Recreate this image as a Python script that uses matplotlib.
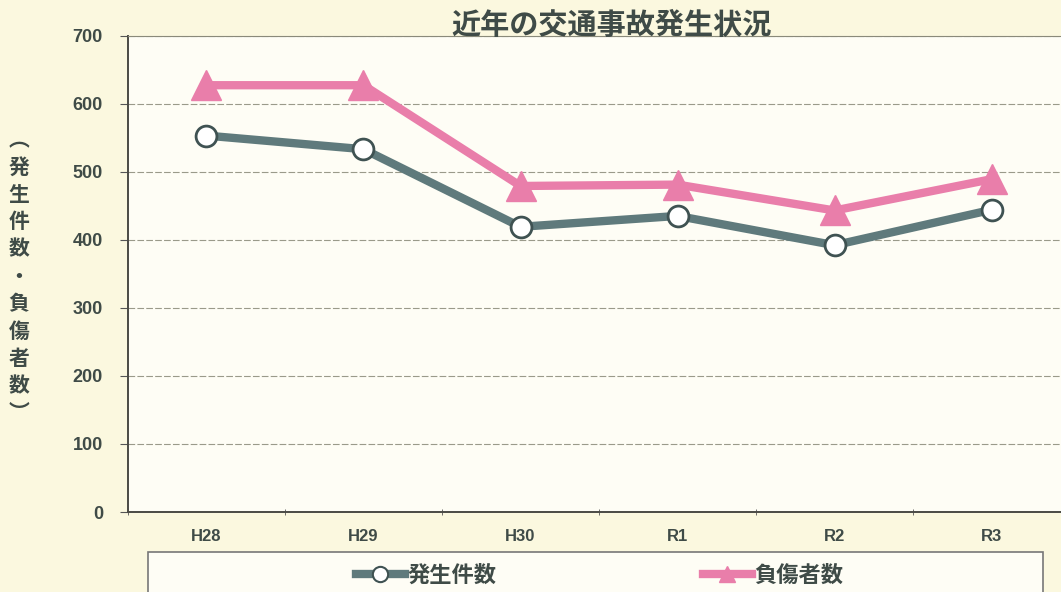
import numpy as np
import matplotlib
matplotlib.use("Agg")
import matplotlib.pyplot as plt
from matplotlib.lines import Line2D
from matplotlib.patches import Rectangle

plt.rcParams["font.family"] = ["Noto Sans CJK JP", "DejaVu Sans"]

years = ["H28", "H29", "H30", "R1", "R2", "R3"]
accidents = [553, 533, 419, 435, 392, 444]   # 発生件数
injured = [627, 627, 479, 481, 443, 489]     # 負傷者数
yticks = [0, 100, 200, 300, 400, 500, 600, 700]

TXT = "#3f4b47"
GRAY = "#5f7a7c"
PINK = "#e97eaa"

fig = plt.figure(figsize=(10.61, 5.92), dpi=100, facecolor="#fbf8df")
ax = fig.add_axes([0.1206, 0.135, 0.888, 0.805])
ax.set_facecolor("#fefdf5")

x = np.arange(len(years))
ax.plot(x, accidents, color=GRAY, lw=6, marker="o", ms=15,
        mfc="white", mec="#3f5252", mew=2, zorder=3)
ax.plot(x, injured, color=PINK, lw=6, marker="^", ms=21,
        mfc=PINK, mec=PINK, zorder=4)

ax.set_xlim(-0.5, len(years) - 0.5)
ax.set_ylim(0, 700)
ax.set_yticks(yticks)
ax.set_xticks(x)
ax.set_xticklabels(years)
ax.set_xticks(np.arange(-0.5, len(years)), minor=True)
ax.tick_params(axis="x", which="major", length=0, pad=12,
               labelsize=12, labelcolor=TXT)
ax.tick_params(axis="x", which="minor", length=4, direction="inout", color="#555")
ax.tick_params(axis="y", length=6, pad=12, labelsize=13, labelcolor=TXT, color="#555")
for lab in ax.get_xticklabels() + ax.get_yticklabels():
    lab.set_fontfamily(["Liberation Sans", "DejaVu Sans"])
    lab.set_fontweight("bold")

ax.grid(axis="y", color="#9a9a8a", lw=0.8, ls=(0, (6, 2)))
ax.set_axisbelow(True)
for s in ["left", "bottom"]:
    ax.spines[s].set_color("#4a4a44")
    ax.spines[s].set_linewidth(1.4)
ax.spines["top"].set_color("#8a8a7a")
ax.spines["right"].set_visible(False)

fig.text(0.576, 0.957, "近年の交通事故発生状況", ha="center", va="center",
         fontsize=21, fontweight="bold", color=TXT)

# vertical y-axis label, one character per line
ylab = "︵発生件数・負傷者数︶"
for i, ch in enumerate(ylab):
    fig.text(0.018, 1 - (140 + i * 27.3) / 592, ch, ha="center", va="center",
             fontsize=15, fontweight="bold", color=TXT)

# legend box below the axis labels
fig.patches.append(Rectangle((148 / 1061, -0.02), (1043 - 148) / 1061, 0.088,
                             transform=fig.transFigure, facecolor="#fefdf5",
                             edgecolor="#777", lw=1.2))
handles = [
    Line2D([], [], color=GRAY, lw=6, marker="o", ms=11, mfc="white", mec="#3f5252", mew=1.5),
    Line2D([], [], color=PINK, lw=6, marker="^", ms=11, mfc=PINK, mec=PINK),
]
leg = fig.legend(handles, ["発生件数", "負傷者数"], loc="center",
                 bbox_to_anchor=(0.565, 0.028), ncol=2, fontsize=16,
                 frameon=False, handlelength=2.2, handletextpad=0.1,
                 columnspacing=9.3)
for t in leg.get_texts():
    t.set_color(TXT)
    t.set_fontweight("bold")

fig.savefig("out.png", dpi=100, facecolor=fig.get_facecolor())
